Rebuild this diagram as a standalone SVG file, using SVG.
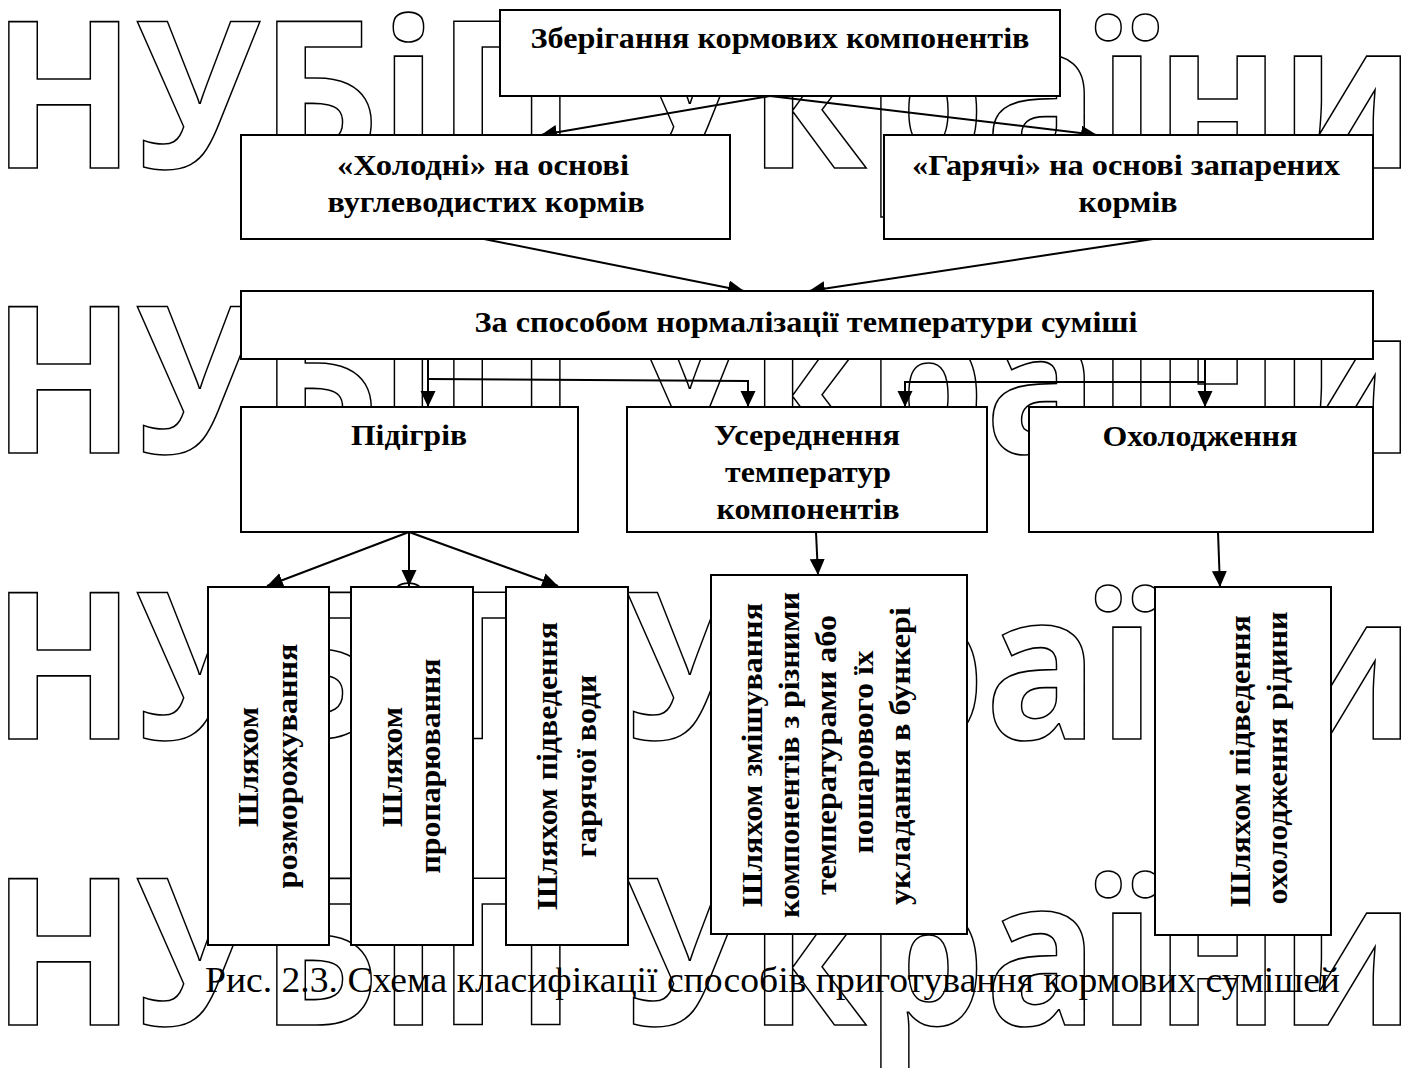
<svg xmlns="http://www.w3.org/2000/svg" width="1407" height="1068" viewBox="0 0 1407 1068">
<defs>
<style>
.wm{font-family:"Open Sans",sans-serif;font-weight:700;font-size:204px;fill:none;stroke:#000;stroke-width:1.6}
.box{fill:#fff;stroke:#000;stroke-width:2}
.t{font-family:"Liberation Serif","Times New Roman",serif;font-weight:bold;font-size:29px;fill:#000;text-anchor:middle}
.cap{font-family:"Liberation Serif","Times New Roman",serif;font-size:36px;fill:#000}
.c{fill:none;stroke:#000;stroke-width:2}
</style>
<marker id="ah" markerUnits="userSpaceOnUse" markerWidth="18" markerHeight="16" refX="16" refY="7.5" orient="auto">
<path d="M0,0 L16,7.5 L0,15 z" fill="#000"/>
</marker>
</defs>
<rect width="1407" height="1068" fill="#fff"/>
<g id="watermark">
<text class="wm" x="-8" y="168" textLength="1423" lengthAdjust="spacingAndGlyphs">НУБіП України</text>
<text class="wm" x="-8" y="453" textLength="1423" lengthAdjust="spacingAndGlyphs">НУБіП України</text>
<text class="wm" x="-8" y="739" textLength="1423" lengthAdjust="spacingAndGlyphs">НУБіП України</text>
<text class="wm" x="-8" y="1025" textLength="1423" lengthAdjust="spacingAndGlyphs">НУБіП України</text>
</g>
<g id="connectors">
<path class="c" d="M770,96 L541,135" marker-end="url(#ah)"/>
<path class="c" d="M770,96 L1097,135" marker-end="url(#ah)"/>
<path class="c" d="M484,239 L744,291" marker-end="url(#ah)"/>
<path class="c" d="M1153,239 L809,291" marker-end="url(#ah)"/>
<path class="c" d="M428,359 V407" marker-end="url(#ah)"/>
<path class="c" d="M428,379 L748,381 V407" marker-end="url(#ah)"/>
<path class="c" d="M1205,359 V407" marker-end="url(#ah)"/>
<path class="c" d="M1205,382 H905 V407" marker-end="url(#ah)"/>
<path class="c" d="M409,532 L267,586" marker-end="url(#ah)"/>
<path class="c" d="M409,532 V586" marker-end="url(#ah)"/>
<path class="c" d="M409,532 L558,586" marker-end="url(#ah)"/>
<path class="c" d="M816,532 L818,575" marker-end="url(#ah)"/>
<path class="c" d="M1218,532 L1220,587" marker-end="url(#ah)"/>
</g>
<g id="n-storage">
<rect class="box" x="500" y="10" width="560" height="86"/>
<text class="t" x="780" y="48" textLength="499" lengthAdjust="spacingAndGlyphs">Зберігання кормових компонентів</text>
</g>
<g id="n-cold">
<rect class="box" x="241" y="135" width="489" height="104"/>
<text class="t" x="483" y="175" textLength="292" lengthAdjust="spacingAndGlyphs">«Холодні» на основі</text>
<text class="t" x="486" y="212" textLength="317" lengthAdjust="spacingAndGlyphs">вуглеводистих кормів</text>
</g>
<g id="n-hot">
<rect class="box" x="884" y="135" width="489" height="104"/>
<text class="t" x="1126" y="175" textLength="428" lengthAdjust="spacingAndGlyphs">«Гарячі» на основі запарених</text>
<text class="t" x="1128" y="212" textLength="99" lengthAdjust="spacingAndGlyphs">кормів</text>
</g>
<g id="n-temp">
<rect class="box" x="241" y="291" width="1132" height="68"/>
<text class="t" x="806" y="332" textLength="663" lengthAdjust="spacingAndGlyphs">За способом нормалізації температури суміші</text>
</g>
<g id="n-heat">
<rect class="box" x="241" y="407" width="337" height="125"/>
<text class="t" x="409" y="445" textLength="116" lengthAdjust="spacingAndGlyphs">Підігрів</text>
</g>
<g id="n-avg">
<rect class="box" x="627" y="407" width="360" height="125"/>
<text class="t" x="807" y="445" textLength="186" lengthAdjust="spacingAndGlyphs">Усереднення</text>
<text class="t" x="808" y="482" textLength="166" lengthAdjust="spacingAndGlyphs">температур</text>
<text class="t" x="808" y="519" textLength="183" lengthAdjust="spacingAndGlyphs">компонентів</text>
</g>
<g id="n-cool">
<rect class="box" x="1029" y="407" width="344" height="125"/>
<text class="t" x="1200" y="446" textLength="195" lengthAdjust="spacingAndGlyphs">Охолодження</text>
</g>
<g id="n-thaw">
<rect class="box" x="208" y="587" width="121" height="358"/>
<text class="t" transform="translate(258,767) rotate(-90)" textLength="120" lengthAdjust="spacingAndGlyphs">Шляхом</text>
<text class="t" transform="translate(297,766) rotate(-90)" textLength="245" lengthAdjust="spacingAndGlyphs">розморожування</text>
</g>
<g id="n-steam">
<rect class="box" x="351" y="587" width="122" height="358"/>
<text class="t" transform="translate(402,767) rotate(-90)" textLength="120" lengthAdjust="spacingAndGlyphs">Шляхом</text>
<text class="t" transform="translate(440,766) rotate(-90)" textLength="215" lengthAdjust="spacingAndGlyphs">пропарювання</text>
</g>
<g id="n-water">
<rect class="box" x="506" y="587" width="122" height="358"/>
<text class="t" transform="translate(557,766) rotate(-90)" textLength="288" lengthAdjust="spacingAndGlyphs">Шляхом підведення</text>
<text class="t" transform="translate(596,766) rotate(-90)" textLength="183" lengthAdjust="spacingAndGlyphs">гарячої води</text>
</g>
<g id="n-mix">
<rect class="box" x="711" y="575" width="256" height="359"/>
<text class="t" transform="translate(762,755) rotate(-90)" textLength="304" lengthAdjust="spacingAndGlyphs">Шляхом змішування</text>
<text class="t" transform="translate(799,755) rotate(-90)" textLength="326" lengthAdjust="spacingAndGlyphs">компонентів з різними</text>
<text class="t" transform="translate(836,755) rotate(-90)" textLength="280" lengthAdjust="spacingAndGlyphs">температурами або</text>
<text class="t" transform="translate(873,752) rotate(-90)" textLength="203" lengthAdjust="spacingAndGlyphs">пошарового їх</text>
<text class="t" transform="translate(910,756) rotate(-90)" textLength="298" lengthAdjust="spacingAndGlyphs">укладання в бункері</text>
</g>
<g id="n-liquid">
<rect class="box" x="1155" y="587" width="176" height="348"/>
<text class="t" transform="translate(1250,761) rotate(-90)" textLength="292" lengthAdjust="spacingAndGlyphs">Шляхом підведення</text>
<text class="t" transform="translate(1287,758) rotate(-90)" textLength="293" lengthAdjust="spacingAndGlyphs">охолодження рідини</text>
</g>
<text class="cap" x="205" y="992" textLength="1135" lengthAdjust="spacingAndGlyphs">Рис. 2.3. Схема класифікації способів приготування кормових сумішей</text>
</svg>
